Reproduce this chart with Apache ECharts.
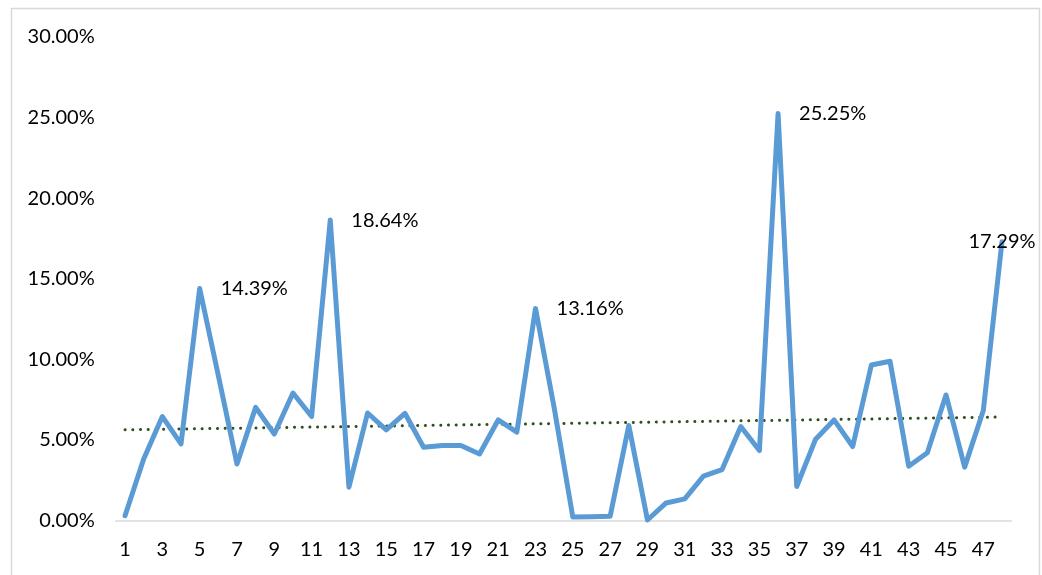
<!DOCTYPE html>
<html>
<head>
<meta charset="utf-8">
<script src="https://cdn.jsdelivr.net/npm/echarts@6/dist/echarts.min.js"></script>
<style>
  html, body { margin: 0; padding: 0; background: #fff; }
  #chart { width: 1042px; height: 575px; }
</style>
</head>
<body>
<div id="chart"></div>
<script>
// Period numbers 1..48
const periods = [
  '1','2','3','4','5','6','7','8','9','10','11','12','13','14','15','16',
  '17','18','19','20','21','22','23','24','25','26','27','28','29','30','31','32',
  '33','34','35','36','37','38','39','40','41','42','43','44','45','46','47','48'
];

// Rate per period, in percent
const rates = [
  0.30, 3.82, 6.45, 4.75, 14.39, 9.00, 3.51, 7.02, 5.37, 7.91, 6.45, 18.64,
  2.07, 6.67, 5.62, 6.65, 4.55, 4.65, 4.65, 4.13, 6.24, 5.48, 13.16, 7.00,
  0.21, 0.23, 0.27, 5.89, 0.03, 1.09, 1.34, 2.75, 3.16, 5.83, 4.34, 25.25,
  2.11, 5.02, 6.24, 4.59, 9.65, 9.88, 3.37, 4.20, 7.79, 3.31, 6.82, 17.29
];

// Periods whose value is written next to the point
const labelledPeriods = ['5', '12', '23', '36', '48'];

// Y axis range and step, in percent
const yMin = 0, yMax = 30, yStep = 5;

// Linear least-squares trend of the rates over the period index
function linearTrend(values) {
  const n = values.length;
  let sx = 0, sy = 0, sxx = 0, sxy = 0;
  values.forEach((v, i) => {
    const x = i + 1;
    sx += x; sy += v; sxx += x * x; sxy += x * v;
  });
  const slope = (n * sxy - sx * sy) / (n * sxx - sx * sx);
  const icpt = (sy - slope * sx) / n;
  return values.map((_, i) => slope * (i + 1) + icpt);
}
const trend = linearTrend(rates);

const FONT = 'Lato';
const FONT_SIZE = 20;
const pct = v => v.toFixed(2) + '%';

const chart = echarts.init(document.getElementById('chart'), null, { renderer: 'canvas' });

const lineData = rates.map((v, i) => {
  const item = { value: v };
  if (labelledPeriods.includes(periods[i])) {
    const last = i === rates.length - 1;
    item.label = last
      ? { show: true, position: 'inside', offset: [0, 2] }
      : { show: true, position: 'right', distance: 21, offset: [0, 2] };
  }
  return item;
});

chart.setOption({
  animation: false,
  backgroundColor: '#ffffff',
  graphic: [{
    type: 'rect',
    shape: { x: 11.5, y: 8.5, width: 1028, height: 600 },
    style: { fill: 'none', stroke: '#d9d9d9', lineWidth: 1.5 },
    silent: true
  }],
  grid: { left: 115.7, right: 30.7, top: 37, bottom: 54.5, containLabel: false },
  xAxis: {
    type: 'category',
    data: periods,
    boundaryGap: true,
    axisLine: { show: true, lineStyle: { color: '#d9d9d9', width: 1.5 } },
    axisTick: { show: false },
    axisLabel: {
      interval: 1,
      color: '#000',
      fontFamily: FONT,
      fontSize: FONT_SIZE,
      margin: 19
    },
    splitLine: { show: false }
  },
  yAxis: {
    type: 'value',
    min: yMin,
    max: yMax,
    interval: yStep,
    axisLine: { show: false },
    axisTick: { show: false },
    splitLine: { show: false },
    axisLabel: {
      color: '#000',
      fontFamily: FONT,
      fontSize: FONT_SIZE,
      margin: 21,
      formatter: v => pct(v)
    }
  },
  series: [
    {
      name: 'Rate',
      type: 'line',
      data: lineData,
      symbol: 'circle',
      symbolSize: 0.1,
      showSymbol: true,
      smooth: false,
      z: 3,
      itemStyle: { color: '#5b9bd5' },
      lineStyle: { color: '#5b9bd5', width: 5, cap: 'round', join: 'round' },
      label: {
        show: false,
        color: '#000',
        fontFamily: FONT,
        fontSize: FONT_SIZE,
        formatter: p => pct(p.value)
      },
      labelLayout: { hideOverlap: false }
    },
    {
      name: 'Trend',
      type: 'line',
      data: trend,
      symbol: 'none',
      z: 2,
      lineStyle: { color: '#2f4f1c', width: 3, type: [0.1, 7.6], cap: 'round' }
    }
  ]
});
</script>
</body>
</html>
